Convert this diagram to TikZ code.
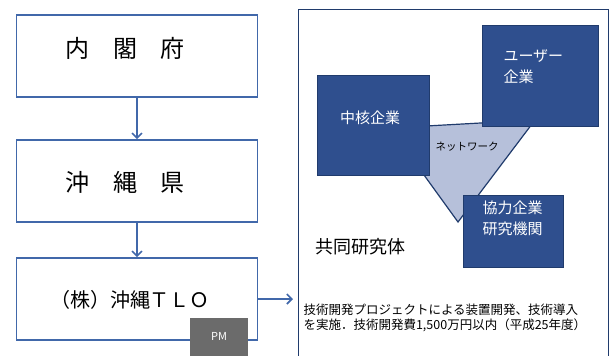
\documentclass[tikz,border=0pt]{standalone}
\usepackage{fontspec}
\setmainfont{Noto Sans CJK JP}
\usetikzlibrary{arrows.meta}

\definecolor{frameblue}{HTML}{4168AA}
\definecolor{memberblue}{HTML}{2F4F8E}
\definecolor{memberline}{HTML}{203B6C}
\definecolor{netfill}{HTML}{B6C0DA}
\definecolor{pmgray}{HTML}{6B6B6B}

\begin{document}
\begin{tikzpicture}[x=1pt,y=-1pt,
  govbox/.style={draw=frameblue,line width=1.6pt,minimum width=241pt,minimum height=82pt,inner sep=0pt},
  member/.style={draw=memberline,fill=memberblue,line width=0.8pt,inner sep=0pt},
  flow/.style={draw=frameblue,line width=1.6pt,-{Straight Barb[length=5pt,width=10pt]}}]
\useasboundingbox (0,0) rectangle (614,356);

% left column
\node[govbox] (cabinet) at (137,56) {};
\node[govbox] (pref) at (137,181) {};
\node[govbox] (tlo) at (137,299) {};

\node[font=\fontsize{24}{24}\selectfont] (cabinettext) at (125,48) {内　閣　府};
\node[font=\fontsize{24}{24}\selectfont] (preftext) at (125,182) {沖　縄　県};
\node[font=\fontsize{20}{20}\selectfont] (tlotext) at (130,300) {（株）沖縄ＴＬＯ};

% PM tag over the lower border
\node[fill=pmgray,minimum width=58pt,minimum height=40pt,inner sep=0pt] (pm) at (219,338) {};
\node[text=white,font=\fontsize{11}{11}\selectfont] (pmtext) at (219,336) {PM};

\draw[flow] (cabinet) -- (pref);
\draw[flow] (pref) -- (tlo);
\coordinate (consort) at (293,299);
\draw[flow] (tlo) -- (consort);

% joint research frame (runs off the bottom)
\draw[draw=memberline,line width=1pt] (298,360) -- (298,9) -- (608,9) -- (608,360);

% network triangle behind the members
\draw[draw=memberline,fill=netfill,line width=1.2pt] (390,128) -- (535,120) -- (458,222) -- cycle;
\node[font=\fontsize{10.5}{10.5}\selectfont] (net) at (467,147) {ネットワーク};

% members
\node[member,minimum width=112pt,minimum height=100pt] (core) at (373,125) {};
\node[member,minimum width=116pt,minimum height=101pt] (user) at (540,76) {};
\node[member,minimum width=100pt,minimum height=72pt] (partner) at (513,231) {};

\node[text=white,font=\fontsize{15}{15}\selectfont] (coretext) at (370,118) {中核企業};
\node[text=white,anchor=west,align=left,font=\fontsize{15}{21}\selectfont] (usertext) at (500,67) {ユーザー\\企業};
\node[text=white,anchor=west,align=left,font=\fontsize{15}{21}\selectfont] (partnertext) at (479,218) {協力企業\\研究機関};

\node[font=\fontsize{18}{18}\selectfont] (jointtext) at (360,247) {共同研究体};

\node[anchor=west,align=left,font=\fontsize{12.5}{15.5}\selectfont] (scope) at (300,318)
  {技術開発プロジェクトによる装置開発、技術導入\\を実施．技術開発費1,500万円以内（平成25年度）};

\end{tikzpicture}
\end{document}
